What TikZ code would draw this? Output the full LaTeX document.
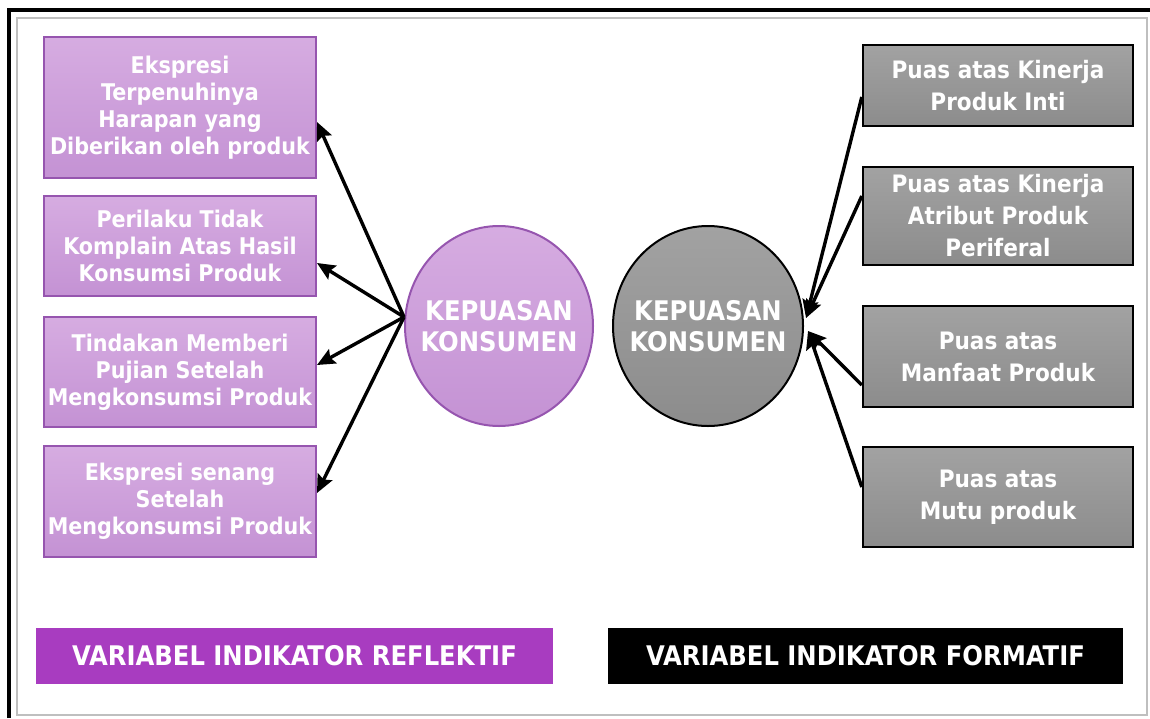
\documentclass[tikz,border=0pt]{standalone}
\usepackage{fontspec}
\setmainfont{DejaVu Sans Condensed}
\usepackage{tikz}
\usetikzlibrary{calc,arrows.meta,shapes.geometric}
\definecolor{lilactop}{RGB}{214,172,225}
\definecolor{lilacbot}{RGB}{196,146,212}
\definecolor{lilacline}{RGB}{150,85,175}
\definecolor{violet}{RGB}{168,60,192}
\definecolor{greytop}{RGB}{162,162,162}
\definecolor{greybot}{RGB}{140,140,140}

\begin{document}
\begin{tikzpicture}[x=0.5pt,y=-0.5pt,
    refl/.style={draw=lilacline, line width=1pt, top color=lilactop, bottom color=lilacbot,
        text=white, font=\bfseries\fontsize{11.5}{13.5}\selectfont, align=center,
        minimum width=136pt, inner sep=0pt},
    form/.style={draw=black, line width=1.2pt, top color=greytop, bottom color=greybot,
        text=white, font=\bfseries\fontsize{12}{16}\selectfont, align=center,
        minimum width=135pt, inner sep=0pt},
    latent/.style={ellipse, line width=1pt, inner sep=0pt,
        label={[text=white, align=center, font=\bfseries\fontsize{13.5}{15.5}\selectfont]center:#1}},
    legend/.style={text=white, font=\bfseries\fontsize{13.5}{15}\selectfont,
        minimum height=28pt, inner sep=0pt},
    link/.style={-{Stealth[length=9pt,width=8pt,inset=1.5pt]}, line width=1.7pt}]
    \useasboundingbox (0,0) rectangle (1150,718);

    % Frame
    \draw[gray!50, line width=0.6pt] (17,18) rectangle (1147,715);
    \draw[line width=1.6pt] (9,718) -- (9,10) -- (1150,10);

    % Reflective indicators
    \node[refl, minimum height=70.5pt] (l1) at (180,107.5) {Ekspresi\\Terpenuhinya\\Harapan yang\\Diberikan oleh produk};
    \node[refl, minimum height=50pt] (l2) at (180,246) {Perilaku Tidak\\Komplain Atas Hasil\\Konsumsi Produk};
    \node[refl, minimum height=55pt] (l3) at (180,372) {Tindakan Memberi\\Pujian Setelah\\Mengkonsumsi Produk};
    \node[refl, minimum height=55.5pt] (l4) at (180,501.5) {Ekspresi senang\\Setelah\\Mengkonsumsi Produk};

    % Latent variables
    \node[latent={KEPUASAN\\KONSUMEN}, draw=lilacline, top color=lilactop, bottom color=lilacbot,
        minimum width=94pt, minimum height=100pt] (kl) at (499,326) {};
    \node[latent={KEPUASAN\\KONSUMEN}, draw=black, top color=greytop, bottom color=greybot,
        minimum width=95pt, minimum height=100pt] (kr) at (708,326) {};

    % Formative indicators
    \node[form, minimum height=40.5pt] (r1) at (998,85.5) {Puas atas Kinerja\\Produk Inti};
    \node[form, minimum height=49pt] (r2) at (998,216) {Puas atas Kinerja\\Atribut Produk\\Periferal};
    \node[form, minimum height=50.5pt] (r3) at (998,356.5) {Puas atas\\Manfaat Produk};
    \node[form, minimum height=50pt] (r4) at (998,497) {Puas atas\\Mutu produk};

    % Arrows
    \coordinate (kw) at ($(kl.west)+(0,-9)$);
    \draw[link] (kw) -- ($(l1.east)+(0,14.5)$);
    \draw[link] (kw) -- ($(l2.east)+(0,17)$);
    \draw[link] (kw) -- ($(l3.east)+(0,-7)$);
    \draw[link] (kw) -- ($(l4.east)+(0,-8.5)$);
    \draw[link] ($(r1.west)+(0,11.5)$) -- ($(kr.east)+(2,-8)$);
    \draw[link] ($(r2.west)+(0,-20)$) -- ($(kr.east)+(2,-8)$);
    \draw[link] ($(r3.west)+(0,28.5)$) -- ($(kr.east)+(4,5)$);
    \draw[link] ($(r4.west)+(0,-10)$) -- ($(kr.east)+(4,5)$);

    % Legend
    \node[legend, fill=violet, minimum width=258.5pt] (lg1) at (294.5,656) {VARIABEL INDIKATOR REFLEKTIF};
    \node[legend, fill=black, minimum width=257.5pt] (lg2) at (865.5,656) {VARIABEL INDIKATOR FORMATIF};
\end{tikzpicture}
\end{document}
